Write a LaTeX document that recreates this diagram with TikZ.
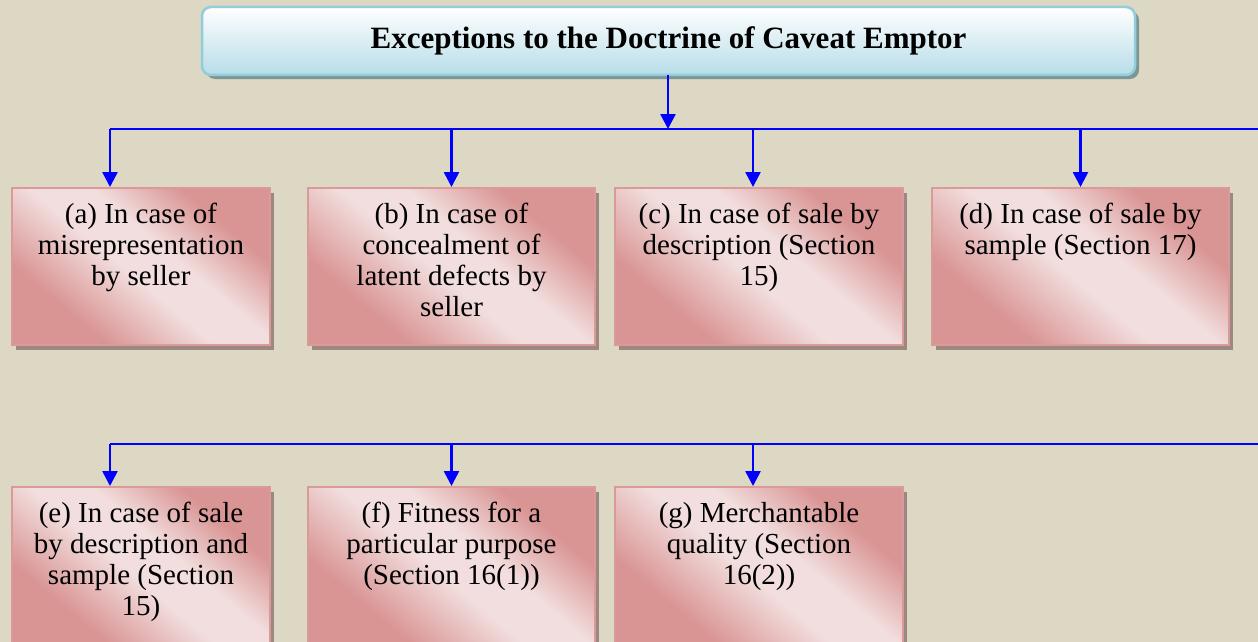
\documentclass[tikz,border=0pt]{standalone}
\usepackage{fontspec}
\setmainfont{Liberation Serif}
\usetikzlibrary{arrows.meta,shadows}
\definecolor{bg}{HTML}{DDD8C3}
\definecolor{pdark}{HTML}{D99594}
\definecolor{plight}{HTML}{F2DEDE}
\definecolor{pborder}{HTML}{DA9A99}
\definecolor{pshadow}{HTML}{9C8880}
\definecolor{tblue}{HTML}{B7DDE8}
\definecolor{tborder}{HTML}{93CDDC}
\definecolor{tshadow}{HTML}{7C9696}
\definecolor{arrowblue}{HTML}{0000FF}
\pgfdeclarehorizontalshading{pinkband}{100bp}{color(0bp)=(pdark); color(30bp)=(pdark); color(47bp)=(plight); color(57bp)=(plight); color(71bp)=(pdark); color(100bp)=(pdark)}
\tikzset{
  pinkbox/.style={rectangle, draw=pborder, line width=2pt, shading=pinkband, shading angle=50,
    inner sep=0, anchor=north west, minimum width=258pt, minimum height=157pt,
    drop shadow={shadow xshift=4pt, shadow yshift=-5pt, fill=pshadow, opacity=1}},
  titlebox/.style={rectangle, rounded corners=9pt, draw=tborder, line width=2.5pt,
    top color=white, bottom color=tblue, inner sep=0, minimum width=933pt, minimum height=68pt,
    drop shadow={shadow xshift=4pt, shadow yshift=-4pt, fill=tshadow, opacity=1},
    font=\fontsize{31}{35}\selectfont\bfseries},
  boxtext/.style={font=\fontsize{29}{31}\selectfont, align=center, inner sep=0, anchor=north},
  busline/.style={arrowblue, line width=2.6pt},
  flow/.style={arrowblue, line width=2.6pt, -{Triangle[length=15pt,width=15pt]}}
}
\begin{document}
\begin{tikzpicture}[x=1pt,y=-1pt]
\clip (0,0) rectangle (1258,642);
\fill[bg] (0,0) rectangle (1258,642);
% title
\node[titlebox] (title) at (668.5,41) {Exceptions to the Doctrine of Caveat Emptor};
% row 1 boxes
\node[pinkbox] (a) at (11,187) {};
\node[pinkbox, minimum width=287pt] (b) at (307,187) {};
\node[pinkbox, minimum width=288pt] (c) at (614,187) {};
\node[pinkbox, minimum width=297pt] (d) at (931,187) {};
% row 2 boxes
\node[pinkbox] (e) at (11,486) {};
\node[pinkbox, minimum width=287pt] (f) at (307,486) {};
\node[pinkbox, minimum width=288pt] (g) at (614,486) {};
% texts
\node[boxtext] (ta) at ([yshift=-16pt]a.north) {(a) In case of\\misrepresentation\\by seller};
\node[boxtext] (tb) at ([yshift=-16pt]b.north) {(b) In case of\\concealment of\\latent defects by\\seller};
\node[boxtext] (tc) at ([yshift=-16pt]c.north) {(c) In case of sale by\\description (Section\\15)};
\node[boxtext] (td) at ([yshift=-16pt]d.north) {(d) In case of sale by\\sample (Section 17)};
\node[boxtext] (te) at ([yshift=-16pt]e.north) {(e) In case of sale\\by description and\\sample (Section\\15)};
\node[boxtext] (tf) at ([yshift=-16pt]f.north) {(f) Fitness for a\\particular purpose\\(Section 16(1))};
\node[boxtext] (tg) at ([yshift=-16pt]g.north) {(g) Merchantable\\quality (Section\\16(2))};
% buses
\coordinate (bus1L) at (110,129);
\coordinate (bus1R) at (1262,129);
\coordinate (bus2L) at (110,444);
\coordinate (bus2R) at (1262,444);
\coordinate (tdrop) at (668,75);
\draw[flow] (tdrop) -- (tdrop |- bus1L);
\draw[busline] (bus1L) -- (bus1R);
\draw[busline] (bus2L) -- (bus2R);
\draw[flow] (bus1L) -- (bus1L |- a.north);
\draw[flow] (b.north |- bus1L) -- (b.north);
\draw[flow] ([xshift=-6pt]c.north |- bus1L) -- ([xshift=-6pt]c.north);
\draw[flow] (d.north |- bus1L) -- (d.north);
\draw[flow] (bus2L) -- (bus2L |- e.north);
\draw[flow] (f.north |- bus2L) -- (f.north);
\draw[flow] ([xshift=-6pt]g.north |- bus2L) -- ([xshift=-6pt]g.north);
\end{tikzpicture}
\end{document}
